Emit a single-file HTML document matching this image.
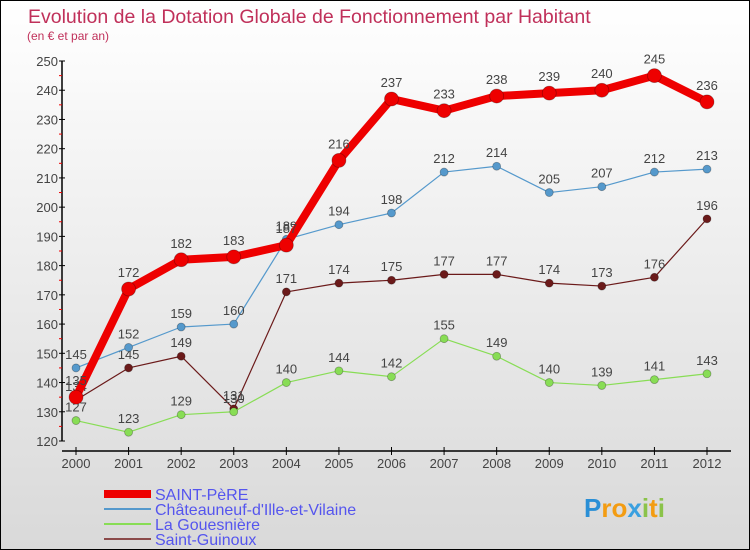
<!DOCTYPE html>
<html><head><meta charset="utf-8"><style>
body{margin:0}
#c{width:750px;height:550px;position:relative;overflow:hidden;background:linear-gradient(#fff,#d9d9d9);box-sizing:border-box;border:1px solid #000;font-family:"Liberation Sans",sans-serif}
</style></head><body>
<div id="c">
<svg id="s" width="750" height="550" style="position:absolute;left:0;top:0;font-family:'Liberation Sans',sans-serif"></svg>
</div>
<script>
const years=[2000,2001,2002,2003,2004,2005,2006,2007,2008,2009,2010,2011,2012];
const stPere=[135,172,182,183,187,216,237,233,238,239,240,245,236];
const chateau=[145,152,159,160,189,194,198,212,214,205,207,212,213];
const gouesniere=[127,123,129,130,140,144,142,155,149,140,139,141,143];
const guinoux=[134,145,149,131,171,174,175,177,177,174,173,176,196];
const yTicks=[120,130,140,150,160,170,180,190,200,210,220,230,240,250];
const seriesNames=["SAINT-PèRE","Châteauneuf-d'Ille-et-Vilaine","La Gouesnière","Saint-Guinoux"];
const s=document.getElementById('s');const NS='http://www.w3.org/2000/svg';
function X(i){return 75+i*(706-75)/12}
function Y(v){return 440-(v-120)*(380/130)}
function el(t,a,txt){const e=document.createElementNS(NS,t);for(const k in a)e.setAttribute(k,a[k]);if(txt!==undefined)e.textContent=txt;s.appendChild(e);return e}
let e;
e=el('text',{x:27,y:22,fill:'#c0305a','font-size':19.5},'Evolution de la Dotation Globale de Fonctionnement par Habitant');

e=el('text',{x:26,y:39,fill:'#c0305a','font-size':12},'(en € et par an)');

e=el('line',{x1:61,y1:60,x2:61,y2:440,stroke:'#000','stroke-width':1.5});

e=el('line',{x1:61,y1:450,x2:730,y2:450,stroke:'#000','stroke-width':1.5});

yTicks.forEach((v,i)=>{
 e=el('line',{x1:58,y1:Y(v),x2:64,y2:Y(v),stroke:'#000'});
 
 if(i<yTicks.length-1){e=el('line',{x1:58,y1:Y(v+5),x2:61,y2:Y(v+5),stroke:'#e00'});
 }
 e=el('text',{x:57,y:Y(v)+5,'text-anchor':'end','font-size':13,fill:'#444'},v);
 
});
years.forEach((y,i)=>{
 e=el('line',{x1:X(i),y1:446,x2:X(i),y2:454,stroke:'#000'});
 
 e=el('text',{x:X(i),y:467,'text-anchor':'middle','font-size':13,fill:'#444'},y);
 
});
const series=[[guinoux,'#6b1a1a',1.2,4],[gouesniere,'#88dd55',1.2,4],[chateau,'#5599cc',1.2,4],[stPere,'#ee0000',8,7]];
const names=['saint-guinoux','la-gouesniere','chateauneuf','saint-pere'];
series.forEach(([d,c,w,r],k)=>{
 e=el('polyline',{points:d.map((v,i)=>X(i)+','+Y(v)).join(' '),fill:'none',stroke:c,'stroke-width':w,'stroke-linejoin':'round'});
 
 d.forEach((v,i)=>{
  e=el('circle',{cx:X(i),cy:Y(v),r:r,fill:c,stroke:'rgba(0,0,0,0.3)','stroke-width':0.8});
  
  e=el('text',{x:X(i),y:Y(v)-(r+5),'text-anchor':'middle','font-size':13,fill:'#444'},v);
  
 });
});
const leg=[['#ee0000',8],['#5599cc',2],['#88dd55',2],['#8b4a4a',2]];
leg.forEach(([c,w],i)=>{
 const y=493+i*15;
 e=el('line',{x1:103,y1:y,x2:150,y2:y,stroke:c,'stroke-width':w});
 
 e=el('text',{x:154,y:y+6,'font-size':16,fill:'#5555ee'},seriesNames[i]);
 
});
e=el('text',{x:583,y:516,'font-size':26,'font-weight':'bold',fill:'#f39c12'});

[['P','#2a8fd6'],['ro','#f39c12'],['x','#3aa0e0'],['i','#8bc34a'],['t','#f39c12'],['i','#8bc34a']].forEach(([t,c])=>{
 const sp=document.createElementNS(NS,'tspan');sp.setAttribute('fill',c);sp.textContent=t;e.appendChild(sp);
});
</script>
</body></html>
